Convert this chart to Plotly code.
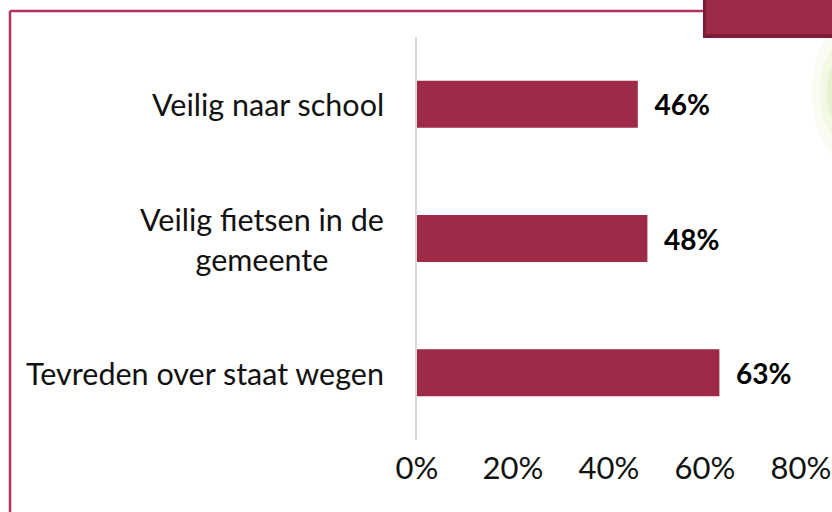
import plotly.graph_objects as go

categories = ["Tevreden over staat wegen", "Veilig fietsen in de<br>gemeente", "Veilig naar school"]
values = [0.63, 0.48, 0.46]
tick_vals = [0, 0.2, 0.4, 0.6, 0.8]
tick_text = ["0%", "20%", "40%", "60%", "80%"]

W, H = 832, 512
L, R, T, B = 417, 31, 37, 72
pw, ph = W - L - R, H - T - B


def px(x):
    return (x - L) / pw


def py(y):
    return (H - B - y) / ph


red = "#9e2a48"
font = "Lato"

fig = go.Figure()

fig.add_trace(go.Bar(
    x=values,
    y=categories,
    orientation="h",
    marker={"color": red, "line": {"width": 0}},
    text=[f"<b>\u00a0\u00a0{v:.0%}</b>" for v in values],
    textposition="outside",
    textfont={"family": font, "size": 28, "color": "#000000"},
    cliponaxis=False,
    hoverinfo="skip",
))

# y labels as centered annotations
for c in categories:
    fig.add_annotation(
        x=px(386), xref="paper", y=c, yref="y",
        text=c, showarrow=False, xanchor="right", align="center",
        font={"family": font, "size": 30.5, "color": "#111111"},
    )

# frame and decoration
shapes = [
    dict(type="line", xref="paper", yref="paper", x0=px(10), x1=px(10), y0=py(11), y1=py(520),
         line={"color": "#b0335a", "width": 2.5}),
    dict(type="line", xref="paper", yref="paper", x0=px(10), x1=px(705), y0=py(11), y1=py(11),
         line={"color": "#b0335a", "width": 2.5}),
    dict(type="rect", xref="paper", yref="paper", x0=px(703), x1=px(840), y0=py(-5), y1=py(38),
         fillcolor="#7e1c38", line={"width": 0}),
    dict(type="rect", xref="paper", yref="paper", x0=px(706), x1=px(840), y0=py(-5), y1=py(34),
         fillcolor=red, line={"width": 0}),
]
# soft green glow at the right edge
for r, op in [(36, 0.06), (28, 0.09), (21, 0.12), (14, 0.16), (8, 0.2)]:
    shapes.append(dict(type="circle", xref="paper", yref="paper",
                       x0=px(848 - r), x1=px(848 + r), y0=py(92 - r * 1.9), y1=py(92 + r * 1.9),
                       fillcolor="#a8d040", opacity=op, line={"width": 0}, layer="below"))

fig.update_layout(
    width=W, height=H,
    margin={"l": L, "r": R, "t": T, "b": B, "autoexpand": False},
    paper_bgcolor="white", plot_bgcolor="white",
    bargap=0.65,
    showlegend=False,
    shapes=shapes,
    xaxis={
        "range": [0, 0.8],
        "automargin": False,
        "tickvals": tick_vals,
        "ticktext": tick_text,
        "showgrid": False,
        "zeroline": False,
        "ticks": "outside",
        "ticklen": 1,
        "tickcolor": "rgba(0,0,0,0)",
        "tickfont": {"family": font, "size": 31, "color": "#111111"},
    },
    yaxis={
        "automargin": False,
        "showticklabels": False,
        "showline": True,
        "linecolor": "#d9d9d9",
        "linewidth": 2,
        "showgrid": False,
    },
)

fig.write_html("out.html", config={"displayModeBar": False},
               post_script="document.body.style.margin='0';")
